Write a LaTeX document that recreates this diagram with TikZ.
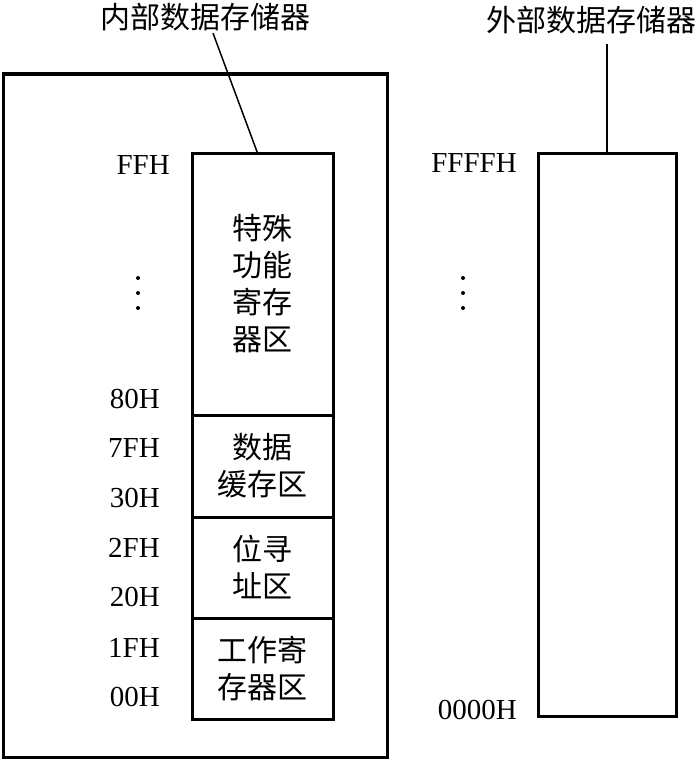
\documentclass[tikz,border=0pt]{standalone}
\usepackage{fontspec}
\setmainfont{Liberation Serif}
\newfontfamily\cjk{Noto Sans CJK SC}
\usetikzlibrary{positioning}
\newcommand{\cjkbig}{\cjk\fontsize{30}{37}\selectfont}
\newcommand{\addrfont}{\fontsize{29}{34}\selectfont}
\tikzset{
  membox/.style={draw, line width=3pt, minimum width=141pt, inner sep=0pt, outer sep=0pt, align=center, font=\cjkbig},
  title/.style={inner sep=2pt, font=\cjkbig},
  addr/.style={anchor=east, inner sep=0pt, font=\addrfont},
  leader/.style={line width=1.5pt}
}
\begin{document}
\begin{tikzpicture}[x=1pt, y=-1pt]
  \useasboundingbox (0,0) rectangle (700,760);
  \node[membox, minimum width=384pt, minimum height=683pt] (chip) at (195,415.5) {};

  % internal RAM map
  \node[membox, minimum height=262pt] (sfr) at (262.5,284) {特殊\\功能\\寄存\\器区};
  \node[membox, minimum height=102pt, below=0pt of sfr] (buf) {数据\\缓存区};
  \node[membox, minimum height=101pt, below=0pt of buf] (bit) {位寻\\址区};
  \node[membox, minimum height=101pt, below=0pt of bit] (work) {工作寄\\存器区};

  \node[addr] (aFF) at (170,165) {FFH};
  \node[addr] (a80) at (160,399) {80H};
  \node[addr] (a7F) at (160,448) {7FH};
  \node[addr] (a30) at (160,498) {30H};
  \node[addr] (a2F) at (160,548) {2FH};
  \node[addr] (a20) at (160,597) {20H};
  \node[addr] (a1F) at (160,648) {1FH};
  \node[addr] (a00) at (160,697) {00H};

  % external RAM
  \node[membox, minimum width=138pt, minimum height=563pt] (xmem) at (607,434.5) {};
  \node[addr] (xFFFF) at (517,163) {FFFFH};
  \node[addr] (x0000) at (517,710) {0000H};

  \foreach \dy in {0,15,30} {
    \fill (138,278+\dy) circle (2pt);
    \fill (463,278+\dy) circle (2pt);
  }

  \node[title] (inttitle) at (205,17) {内部数据存储器};
  \node[title] (exttitle) at (591,20) {外部数据存储器};
  \draw[leader] ([xshift=8pt]inttitle.south) -- ([xshift=-5pt]sfr.north);
  \draw[leader, shorten <=8pt] (exttitle.south -| xmem.north) -- (xmem.north);
\end{tikzpicture}
\end{document}
